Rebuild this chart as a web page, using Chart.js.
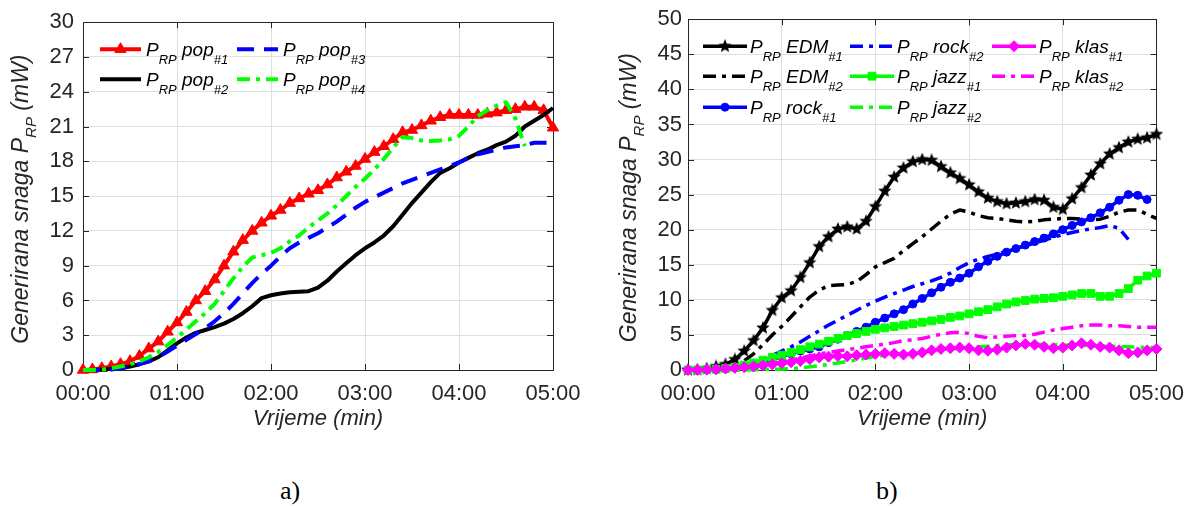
<!DOCTYPE html>
<html>
<head>
<meta charset="utf-8">
<script src="https://cdn.jsdelivr.net/npm/chart.js@4.4.0/dist/chart.umd.min.js"></script>
<style>
html,body{margin:0;padding:0;background:#fff;width:1195px;height:506px;overflow:hidden}
#ca{position:absolute;left:0;top:0}
#cb{position:absolute;left:597px;top:0}
.cap{position:absolute;top:476px;font-family:"Liberation Serif","Times New Roman",serif;font-size:26px;line-height:30px;color:#000}
</style>
</head>
<body>
<canvas id="ca" width="597" height="450"></canvas>
<canvas id="cb" width="598" height="450"></canvas>
<div class="cap" style="left:280px">a)</div>
<div class="cap" style="left:876px">b)</div>
<script>
// ---------- DATA ----------
const timeMin = [0.0,0.1,0.2,0.3,0.4,0.5,0.6,0.7,0.8,0.9,1.0,1.1,1.2,1.3,1.4,1.5,1.6,1.7,1.8,1.9,2.0,2.1,2.2,2.3,2.4,2.5,2.6,2.7,2.8,2.9,3.0,3.1,3.2,3.3,3.4,3.5,3.6,3.7,3.8,3.9,4.0,4.1,4.2,4.3,4.4,4.5,4.6,4.7,4.8,4.9,5.0];
const xTickValues = [0,1,2,3,4,5];
const xTickLabels = ['00:00','01:00','02:00','03:00','04:00','05:00'];
const yTicksA = [0,3,6,9,12,15,18,21,24,27,30];
const yTicksB = [0,5,10,15,20,25,30,35,40,45,50];
const xTitle = 'Vrijeme (min)';
const yTitle = 'Generirana snaga P_{RP} (mW)';
const captions = ['a)','b)'];

// chart a) pop
const legendA = ['P_{RP} pop_{#1}','P_{RP} pop_{#2}','P_{RP} pop_{#3}','P_{RP} pop_{#4}'];
const pop1 = [0,0.05,0.15,0.3,0.5,0.75,1.2,1.85,2.45,3.3,4.1,5.0,6.0,6.8,7.8,9.0,10.2,11.2,12.0,12.7,13.3,13.8,14.4,14.8,15.2,15.5,16.0,16.6,17.1,17.6,18.2,18.8,19.3,19.9,20.5,20.7,21.1,21.5,21.8,22.0,22.0,22.0,22.0,22.1,22.2,22.4,22.5,22.7,22.7,22.4,20.9];
const pop2 = [0,0,0.05,0.1,0.15,0.3,0.5,0.75,1.1,1.7,2.3,2.8,3.2,3.45,3.7,4.0,4.4,4.9,5.5,6.2,6.45,6.6,6.7,6.75,6.8,7.1,7.7,8.5,9.2,9.9,10.5,11.0,11.6,12.4,13.4,14.4,15.3,16.2,17.0,17.4,17.9,18.3,18.7,19.0,19.4,19.7,20.2,21.0,21.5,22.0,22.6];
const pop3 = [0,0,0,0.05,0.15,0.3,0.5,0.75,1.1,1.6,2.1,2.6,3.1,3.6,4.2,4.9,5.7,6.6,7.5,8.3,9.0,9.8,10.5,11.0,11.4,11.8,12.3,12.8,13.4,14.0,14.5,14.9,15.3,15.7,16.1,16.4,16.7,17.0,17.3,17.6,17.9,18.3,18.6,18.8,19.0,19.2,19.3,19.4,19.6,19.6,19.6];
const pop4 = [0,0,0.05,0.15,0.3,0.5,0.75,1.1,1.55,2.15,2.8,3.5,4.2,4.9,5.7,6.8,7.9,8.9,9.7,9.9,10.1,10.5,11.1,11.6,12.3,12.9,13.5,14.2,15.0,15.8,16.5,17.3,18.2,19.2,20.1,20.0,19.8,19.75,19.8,19.9,20.2,21.0,21.9,22.4,22.8,23.1,21.7,19.3,null,null,null];

// chart b) genres
const legendB = ['P_{RP} EDM_{#1}','P_{RP} EDM_{#2}','P_{RP} rock_{#1}','P_{RP} rock_{#2}','P_{RP} jazz_{#1}','P_{RP} jazz_{#2}','P_{RP} klas_{#1}','P_{RP} klas_{#2}'];
const edm1 = [0,0.05,0.2,0.5,0.8,1.5,2.7,4.2,6.0,8.5,10.3,11.3,13.2,15.3,17.6,19.0,20.1,20.4,20.1,21.2,23.3,25.5,27.5,28.8,29.7,30.0,29.9,29.0,28.1,27.3,26.4,25.4,24.5,24.0,23.7,23.8,24.0,24.3,24.2,23.2,22.9,24.4,26.0,27.8,29.4,30.8,31.7,32.5,32.9,33.1,33.6];
const edm2 = [0,0,0.1,0.2,0.3,0.6,1.3,2.3,3.6,5.0,6.2,7.6,9.0,10.4,11.4,12.0,12.1,12.2,12.6,13.6,14.7,15.3,15.9,17.0,18.0,19.0,20.1,21.2,22.2,22.8,22.5,22.0,21.7,21.6,21.4,21.2,21.1,21.2,21.4,21.5,21.6,21.6,21.5,21.4,21.5,21.9,22.5,22.8,22.8,22.2,21.6];
const rock1 = [0,0,0.05,0.1,0.2,0.35,0.55,0.8,1.1,1.5,1.9,2.3,2.7,3.0,3.3,3.9,4.4,4.9,5.5,6.1,6.8,7.4,8.0,8.6,9.4,10.2,11.0,11.8,12.5,13.1,13.8,14.7,15.5,16.2,16.8,17.3,17.8,18.3,18.8,19.4,20.0,20.6,21.1,21.7,22.4,23.2,24.2,25.0,24.9,24.3,null];
const rock2 = [0,0,0.05,0.15,0.3,0.5,0.75,1.0,1.5,2.1,2.7,3.3,4.0,4.8,5.6,6.4,7.1,7.8,8.5,9.2,9.8,10.4,10.9,11.4,11.9,12.3,12.7,13.2,13.8,14.6,15.3,15.8,16.2,16.5,16.9,17.3,17.7,18.1,18.5,18.9,19.3,19.6,19.9,20.1,20.3,20.6,20.2,18.6,null,null,null];
const jazz1 = [0,0,0.05,0.1,0.2,0.4,0.7,1.0,1.4,1.8,2.1,2.5,2.9,3.3,3.7,4.1,4.5,4.9,5.2,5.5,5.8,6.0,6.2,6.4,6.6,6.8,7.0,7.2,7.5,7.7,8.0,8.3,8.6,9.0,9.4,9.7,9.9,10.1,10.2,10.3,10.5,10.7,10.9,10.9,10.5,10.5,10.9,11.6,12.8,13.4,13.8];
const jazz2 = [0,0,0,0,0,0,0,0.05,0.05,0.1,0.15,0.2,0.3,0.45,0.6,0.8,1.0,1.2,1.45,1.7,1.9,2.1,2.3,2.4,2.5,2.6,2.7,2.85,3.0,3.1,3.2,3.3,3.4,3.5,3.6,3.65,3.7,3.7,3.65,3.6,3.55,3.5,3.5,3.5,3.45,3.4,3.35,3.3,3.25,3.2,3.2];
const klas1 = [0,0,0.05,0.1,0.2,0.3,0.4,0.5,0.65,0.8,0.95,1.1,1.3,1.55,1.8,1.9,2.0,1.95,2.1,2.2,2.3,2.4,2.3,2.2,2.3,2.5,2.8,3.0,3.1,3.2,3.1,2.8,2.75,2.9,3.2,3.5,3.7,3.6,3.3,3.1,3.2,3.5,3.8,3.6,3.3,3.2,2.8,2.4,2.5,2.8,3.0];
const klas2 = [0,0,0.05,0.1,0.2,0.3,0.45,0.6,0.75,0.9,1.1,1.4,1.7,2.0,2.3,2.5,2.7,2.9,3.1,3.3,3.5,3.7,3.9,4.2,4.3,4.5,4.8,5.1,5.3,5.4,5.2,4.8,4.6,4.7,4.8,4.9,4.9,5.1,5.4,5.7,5.9,6.1,6.3,6.4,6.4,6.3,6.3,6.2,6.1,6.1,6.1];

// ---------- STYLE ----------
const FAM = '"Liberation Sans", Arial, Helvetica, sans-serif';
const INK = '#262626';
const GRID = '#dfdfdf';
const DASH = [17, 10];
const DASHDOT = [13, 6, 4, 6];

function starImage(size, color) {
  const c = document.createElement('canvas');
  c.width = size; c.height = size;
  const g = c.getContext('2d');
  g.fillStyle = color;
  g.beginPath();
  const cx = size / 2, cy = size / 2, R = size / 2, r = R * 0.45;
  for (let i = 0; i < 10; i++) {
    const ang = -Math.PI / 2 + i * Math.PI / 5;
    const rr = i % 2 ? r : R;
    g.lineTo(cx + rr * Math.cos(ang), cy + rr * Math.sin(ang));
  }
  g.closePath();
  g.fill();
  return c;
}
const STAR = starImage(14, '#000000');

function parseTex(s) {
  const parts = []; const re = /_\{([^}]*)\}/g; let last = 0, m;
  while ((m = re.exec(s))) {
    if (m.index > last) parts.push({ t: s.slice(last, m.index), sub: false });
    parts.push({ t: m[1], sub: true });
    last = re.lastIndex;
  }
  if (last < s.length) parts.push({ t: s.slice(last), sub: false });
  return parts;
}
function drawRich(ctx, s, x, y, size, subSize, subDy, align) {
  const parts = parseTex(s);
  let w = 0;
  for (const p of parts) {
    ctx.font = 'italic ' + (p.sub ? subSize : size) + 'px ' + FAM;
    p.w = ctx.measureText(p.t).width; w += p.w;
  }
  let cx = align === 'center' ? x - w / 2 : x;
  ctx.textAlign = 'left'; ctx.textBaseline = 'alphabetic';
  for (const p of parts) {
    ctx.font = 'italic ' + (p.sub ? subSize : size) + 'px ' + FAM;
    ctx.fillText(p.t, cx, y + (p.sub ? subDy : 0));
    cx += p.w;
  }
}
function drawMarker(ctx, style, r, x, y, color) {
  ctx.save();
  ctx.fillStyle = color; ctx.strokeStyle = color; ctx.lineWidth = 1; ctx.setLineDash([]);
  if (typeof style === 'object') {
    ctx.drawImage(style, x - style.width / 2, y - style.height / 2);
    ctx.restore(); return;
  }
  ctx.beginPath();
  if (style === 'circle') ctx.arc(x, y, r, 0, Math.PI * 2);
  else if (style === 'triangle') {
    for (let k = 0; k < 3; k++) { const a = -Math.PI / 2 + k * 2 * Math.PI / 3; ctx.lineTo(x + r * Math.cos(a), y + r * Math.sin(a)); }
    ctx.closePath();
  } else if (style === 'rect') { const h = r * Math.SQRT1_2; ctx.rect(x - h, y - h, 2 * h, 2 * h); }
  else if (style === 'rectRot') { ctx.moveTo(x, y - r); ctx.lineTo(x + r, y); ctx.lineTo(x, y + r); ctx.lineTo(x - r, y); ctx.closePath(); }
  ctx.fill(); ctx.stroke();
  ctx.restore();
}

function decor(cfg) {
  return {
    id: 'decor' + cfg.id,
    beforeDatasetsDraw(chart) {
      const ctx = chart.ctx, a = chart.chartArea;
      ctx.save();
      ctx.strokeStyle = INK; ctx.lineWidth = 1;
      ctx.strokeRect(Math.round(a.left) + 0.5, Math.round(a.top) + 0.5, Math.round(a.right - a.left), Math.round(a.bottom - a.top));
      const xs = chart.scales.x, ys = chart.scales.y, L = 6;
      ctx.beginPath();
      xs.ticks.forEach(t => {
        const px = Math.round(xs.getPixelForValue(t.value)) + 0.5;
        ctx.moveTo(px, a.bottom); ctx.lineTo(px, a.bottom - L);
        ctx.moveTo(px, a.top); ctx.lineTo(px, a.top + L);
      });
      ys.ticks.forEach(t => {
        const py = Math.round(ys.getPixelForValue(t.value)) + 0.5;
        ctx.moveTo(a.left, py); ctx.lineTo(a.left + L, py);
        ctx.moveTo(a.right, py); ctx.lineTo(a.right - L, py);
      });
      ctx.stroke();
      ctx.restore();
    },
    afterDraw(chart) {
      const ctx = chart.ctx, a = chart.chartArea;
      ctx.save();
      ctx.fillStyle = INK;
      ctx.translate(a.left - cfg.yTitleOffset, (a.top + a.bottom) / 2 + 3);
      ctx.rotate(-Math.PI / 2);
      drawRich(ctx, yTitle, 0, 0, 23, 15, 8, 'center');
      ctx.restore();
      ctx.save();
      ctx.fillStyle = INK;
      drawRich(ctx, xTitle, (a.left + a.right) / 2, a.bottom + 55, 22, 15, 8, 'center');
      ctx.restore();
      chart.data.datasets.forEach((ds, i) => {
        const col = Math.floor(i / cfg.rows), row = i % cfg.rows;
        const x0 = a.left + cfg.legX[col], y = a.top + cfg.legY[row];
        ctx.save();
        ctx.strokeStyle = ds.borderColor; ctx.lineWidth = ds.borderWidth; ctx.setLineDash(ds.borderDash || []);
        ctx.beginPath(); ctx.moveTo(x0, y); ctx.lineTo(x0 + cfg.legLen, y); ctx.stroke();
        ctx.restore();
        if (ds.pointRadius > 0) drawMarker(ctx, ds.pointStyle, ds.pointRadius, x0 + cfg.legLen / 2, y, ds.borderColor);
        ctx.save();
        ctx.fillStyle = '#000';
        drawRich(ctx, ds.label, x0 + cfg.legLen + cfg.legGap, y + 7, 19, 13, 8, 'left');
        ctx.restore();
      });
    }
  };
}

function mk(label, arr, color, dash, pStyle, pRadius, i, n, lw) {
  return {
    label: label,
    data: timeMin.map((t, k) => ({ x: t, y: arr[k] })),
    borderColor: color, backgroundColor: color,
    borderWidth: lw, borderDash: dash, borderJoinStyle: 'round',
    pointStyle: pStyle || 'circle', pointRadius: pRadius || 0, pointHoverRadius: 0,
    pointBackgroundColor: color, pointBorderColor: color, pointBorderWidth: 1,
    fill: false, tension: 0, clip: false, spanGaps: false, order: n - i
  };
}

function opts(yMax, yTicks, yWidth, padRight, yPad) {
  return {
    responsive: false, animation: false, devicePixelRatio: 1,
    layout: { padding: { left: 0, top: 16, right: padRight, bottom: 0 } },
    plugins: { legend: { display: false }, tooltip: { enabled: false } },
    scales: {
      x: {
        type: 'linear', min: 0, max: 5,
        afterBuildTicks: s => { s.ticks = xTickValues.map(v => ({ value: v })); },
        afterFit: s => { s.height = 80; },
        ticks: { callback: (v, i) => xTickLabels[i], color: INK, font: { family: FAM, size: 22 }, padding: 11, maxRotation: 0, autoSkip: false },
        grid: { color: GRID, lineWidth: 1, drawTicks: false },
        border: { display: false }
      },
      y: {
        type: 'linear', min: 0, max: yMax,
        afterBuildTicks: s => { s.ticks = yTicks.map(v => ({ value: v })); },
        afterFit: s => { s.width = yWidth; },
        ticks: { callback: v => String(v), color: INK, font: { family: FAM, size: 22 }, padding: yPad, autoSkip: false },
        grid: { color: GRID, lineWidth: 1, drawTicks: false },
        border: { display: false }
      }
    }
  };
}

const dsA = [
  mk(legendA[0], pop1, '#ff0000', [], 'triangle', 6.5, 0, 4, 4),
  mk(legendA[1], pop2, '#000000', [], null, 0, 1, 4, 4),
  mk(legendA[2], pop3, '#0000ff', DASH, null, 0, 2, 4, 4),
  mk(legendA[3], pop4, '#00ff00', DASHDOT, null, 0, 3, 4, 4)
];
new Chart(document.getElementById('ca'), {
  type: 'line',
  data: { datasets: dsA },
  options: opts(30, yTicksA, 83, 44, 9),
  plugins: [decor({ id: 'A', rows: 2, legX: [17, 154], legY: [27, 57], legLen: 41, legGap: 5, yTitleOffset: 55 })]
});

const dsB = [
  mk(legendB[0], edm1, '#000000', [], STAR, 6, 0, 8, 3.5),
  mk(legendB[1], edm2, '#000000', DASHDOT, null, 0, 1, 8, 3.5),
  mk(legendB[2], rock1, '#0000ff', [], 'circle', 4, 2, 8, 3.5),
  mk(legendB[3], rock2, '#0000ff', DASHDOT, null, 0, 3, 8, 3.5),
  mk(legendB[4], jazz1, '#00ff00', [], 'rect', 5.5, 4, 8, 3.5),
  mk(legendB[5], jazz2, '#00ff00', DASHDOT, null, 0, 5, 8, 3.5),
  mk(legendB[6], klas1, '#ff00ff', [], 'rectRot', 5.5, 6, 8, 3.5),
  mk(legendB[7], klas2, '#ff00ff', DASHDOT, null, 0, 7, 8, 3.5)
];
new Chart(document.getElementById('cb'), {
  type: 'line',
  data: { datasets: dsB },
  options: opts(50, yTicksB, 91, 37, 6),
  plugins: [decor({ id: 'B', rows: 3, legX: [15, 162, 304], legY: [27, 57, 88], legLen: 44, legGap: 3, yTitleOffset: 52 })]
});
</script>
</body>
</html>
